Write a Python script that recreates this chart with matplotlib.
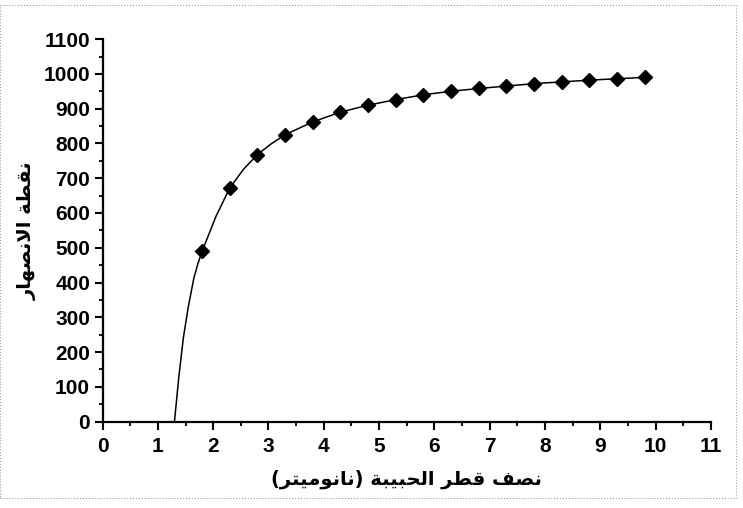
import numpy as np
import matplotlib.pyplot as plt
from matplotlib.ticker import MultipleLocator
from matplotlib.patches import Rectangle

# particle radius (nm) and melting point
radius = [1.8, 2.3, 2.8, 3.3, 3.8, 4.3, 4.8, 5.3, 5.8, 6.3, 6.8, 7.3, 7.8, 8.3, 8.8, 9.3, 9.8]
melting = [490, 672, 768, 825, 862, 890, 910, 926, 940, 950, 958, 965, 972, 977, 982, 986, 990]

# line path (markers plus extra points)
curve_x = [1.30, 1.38, 1.46, 1.55, 1.65, 1.72, 1.8, 2.05, 2.3, 2.55, 2.8, 3.05, 3.3,
           3.8, 4.3, 4.8, 5.3, 5.8, 6.3, 6.8, 7.3, 7.8, 8.3, 8.8, 9.3, 9.8]
curve_y = [0, 130, 240, 330, 412, 452, 490, 590, 672, 726, 768, 799, 825,
           862, 890, 910, 926, 940, 950, 958, 965, 972, 977, 982, 986, 990]

x_label = "نصف قطر الحبيبة (نانوميتر)"
y_label = "نقطة الانصهار"

# presentation forms: isolated, final, initial, medial
FORMS = {
    'ا': ('\uFE8D', '\uFE8E', None, None),
    'ب': ('\uFE8F', '\uFE90', '\uFE91', '\uFE92'),
    'ة': ('\uFE93', '\uFE94', None, None),
    'ت': ('\uFE95', '\uFE96', '\uFE97', '\uFE98'),
    'ح': ('\uFEA1', '\uFEA2', '\uFEA3', '\uFEA4'),
    'ر': ('\uFEAD', '\uFEAE', None, None),
    'ص': ('\uFEB9', '\uFEBA', '\uFEBB', '\uFEBC'),
    'ط': ('\uFEC1', '\uFEC2', '\uFEC3', '\uFEC4'),
    'ف': ('\uFED1', '\uFED2', '\uFED3', '\uFED4'),
    'ق': ('\uFED5', '\uFED6', '\uFED7', '\uFED8'),
    'ل': ('\uFEDD', '\uFEDE', '\uFEDF', '\uFEE0'),
    'م': ('\uFEE1', '\uFEE2', '\uFEE3', '\uFEE4'),
    'ن': ('\uFEE5', '\uFEE6', '\uFEE7', '\uFEE8'),
    'ه': ('\uFEE9', '\uFEEA', '\uFEEB', '\uFEEC'),
    'و': ('\uFEED', '\uFEEE', None, None),
    'ي': ('\uFEF1', '\uFEF2', '\uFEF3', '\uFEF4'),
}


def dual(c):
    return c in FORMS and FORMS[c][2] is not None


def shape(text):
    out = []
    i = 0
    while i < len(text):
        c = text[i]
        if c not in FORMS:
            out.append(c)
            i += 1
            continue
        prev = text[i - 1] if i > 0 else ''
        jp = dual(prev)
        if c == 'ل' and i + 1 < len(text) and text[i + 1] == 'ا':
            out.append('\uFEFC' if jp else '\uFEFB')
            i += 2
            continue
        nxt = text[i + 1] if i + 1 < len(text) else ''
        jn = dual(c) and nxt in FORMS
        f = FORMS[c]
        if jp and jn:
            out.append(f[3])
        elif jp:
            out.append(f[1])
        elif jn:
            out.append(f[2])
        else:
            out.append(f[0])
        i += 1
    vis = ''.join(reversed(out))
    return vis.translate(str.maketrans('()', ')('))


plt.rcParams['font.family'] = ['Liberation Sans', 'DejaVu Sans']

fig = plt.figure(figsize=(7.43, 5.08), dpi=100)
ax = fig.add_axes([0.138, 0.170, 0.819, 0.753])

ax.plot(curve_x, curve_y, color='black', linewidth=1.1)
ax.plot(radius, melting, linestyle='none', marker='D', markersize=7.5, color='black')

ax.set_xlim(0, 11)
ax.set_ylim(0, 1100)
ax.xaxis.set_major_locator(MultipleLocator(1))
ax.xaxis.set_minor_locator(MultipleLocator(0.5))
ax.yaxis.set_major_locator(MultipleLocator(100))
ax.yaxis.set_minor_locator(MultipleLocator(50))

for s in ['top', 'right']:
    ax.spines[s].set_visible(False)
for s in ['left', 'bottom']:
    ax.spines[s].set_linewidth(1.6)

ax.tick_params(which='major', direction='out', length=6, width=1.5, labelsize=15, pad=3)
ax.tick_params(which='minor', direction='out', length=3, width=1.3)
ax.tick_params(axis='x', which='major', pad=5)
for lab in ax.get_xticklabels() + ax.get_yticklabels():
    lab.set_fontweight('bold')

ax.set_xlabel(shape(x_label), fontsize=14, fontweight='bold', family='DejaVu Sans', labelpad=10)
ax.set_ylabel(shape(y_label), fontsize=14, fontweight='bold', family='DejaVu Sans', labelpad=5)

# dotted frame of the scan
fig.patches.append(Rectangle((0.0, 0.02), 0.99, 0.97, transform=fig.transFigure,
                             fill=False, edgecolor='#999999', linestyle=':', linewidth=0.8))

plt.savefig('out.png', dpi=100)
